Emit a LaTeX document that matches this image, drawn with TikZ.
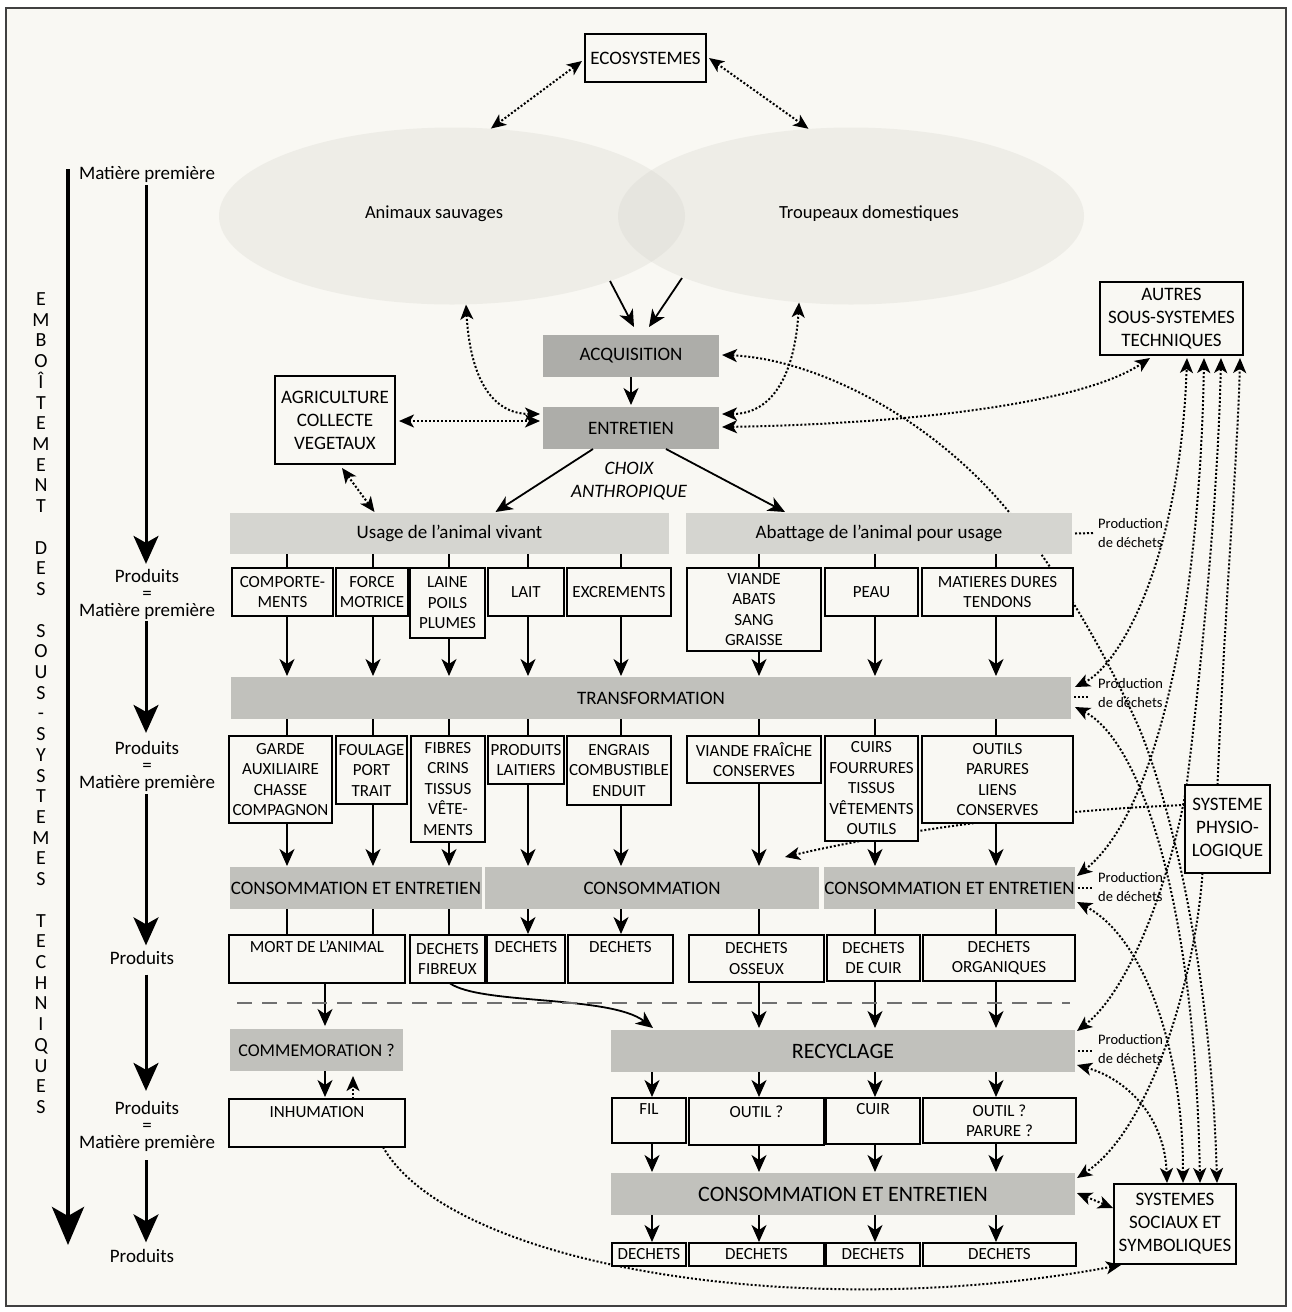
\documentclass[tikz,border=0pt]{standalone}
\usepackage{fontspec}
\setmainfont{Carlito}
\usetikzlibrary{arrows.meta,shapes.geometric,calc}
\definecolor{bgc}{HTML}{F9F8F3}
\definecolor{ellc}{HTML}{D8D7CF}
\definecolor{darkg}{HTML}{ADADA9}
\definecolor{midg}{HTML}{C1C1BC}
\definecolor{lightg}{HTML}{D5D5D0}
\definecolor{dashc}{HTML}{707070}
\definecolor{framec}{HTML}{404040}
\newcommand{\FntBar}{\fontsize{19}{23}\selectfont}
\newcommand{\FntBarL}{\fontsize{22}{26}\selectfont}
\newcommand{\FntBarS}{\fontsize{18}{21}\selectfont}
\newcommand{\FntBox}{\fontsize{17}{20.5}\selectfont}
\newcommand{\FntBig}{\fontsize{19}{23}\selectfont}
\newcommand{\FntLab}{\fontsize{19}{17}\selectfont}
\newcommand{\FntEll}{\fontsize{18.5}{22}\selectfont}
\newcommand{\FntSmall}{\fontsize{14.5}{19}\selectfont}
\newcommand{\FntVert}{\fontsize{20}{20}\selectfont}
\newcommand{\mkbox}[7][]{%
  \pgfmathsetmacro{\bxcx}{(#3+#5)/2}%
  \pgfmathsetmacro{\bxcy}{(#4+#6)/2}%
  \pgfmathsetmacro{\bxw}{#5-#3}%
  \pgfmathsetmacro{\bxh}{#6-#4}%
  \node[#1, minimum width=\bxw pt, minimum height=\bxh pt] (#2) at (\bxcx,\bxcy) {#7};}
\pgfdeclarelayer{back}
\pgfdeclarelayer{mid}
\pgfsetlayers{back,mid,main}
\tikzset{
  wbox/.style={draw, line width=2pt, fill=bgc, align=center, inner sep=0pt, outer sep=0pt, font=\FntBox},
  wboxb/.style={wbox, font=\FntBig},
  topt/.style 2 args={text height=#1pt, text depth=#2pt},
  gbar/.style={fill=midg, align=center, inner sep=0pt, outer sep=0pt, font=\FntBar},
  dbar/.style={gbar, fill=darkg},
  lbar/.style={gbar, fill=lightg},
  flow/.style={line width=1.8pt, -{Stealth[length=17pt,width=15pt,inset=5pt]}},
  plain/.style={line width=1.8pt},
  dotl/.style={line width=2pt, dash pattern=on 2pt off 2pt},
  dar/.style={dotl, -{Stealth[length=15pt,width=13pt,inset=4pt]}},
  ddar/.style={dotl, {Stealth[length=15pt,width=13pt,inset=4pt]}-{Stealth[length=15pt,width=13pt,inset=4pt]}},
  lab/.style={align=center, inner sep=0pt, outer sep=0pt, font=\FntLab},
  colarrow/.style={line width=3pt, -{Stealth[length=28pt,width=25pt,inset=7pt]}},
  pdlab/.style={align=left, anchor=west, inner sep=0pt, font=\FntSmall},
  ell/.style={ellipse, fill=ellc, fill opacity=0.32, draw=none, minimum width=466pt, minimum height=177pt, inner sep=0pt},
}
\begin{document}
\begin{tikzpicture}[x=1pt,y=-1pt]
\useasboundingbox (0,0) rectangle (1292,1312);
\begin{pgfonlayer}{back}
\fill[white] (0,0) rectangle (1292,1312);
\draw[framec, line width=1.2pt, fill=bgc] (6,8) rectangle (1286,1306);
\node[ell] (wild) at (452,216) {};
\node[ell] (dom) at (851,216) {};
\end{pgfonlayer}
\node[font=\FntEll] (wildt) at (434,213.5) {Animaux sauvages};
\node[font=\FntEll] (domt) at (869,213.5) {Troupeaux domestiques};

% left column
\coordinate (bigtop) at (68,169);
\coordinate (bigbot) at (68,1245);
\draw[line width=4pt, -{Stealth[length=38pt,width=32pt,inset=9pt]}] (bigtop) -- (bigbot);
\foreach \ltr [count=\i from 0] in {E,M,B,O,Î,T,E,M,E,N,T,{},D,E,S,{},S,O,U,S,-,S,Y,S,T,E,M,E,S,{},T,E,C,H,N,I,Q,U,E,S} {
  \pgfmathsetmacro{\vy}{305.5+\i*20.72}
  \node[anchor=base, inner sep=0pt, font=\FntVert] (v\i) at (41,\vy) {\ltr};
}
\node[lab] (mp0) at (147,174.5) {Matière première};
\node[lab] (p1) at (147,594) {Produits\\=\\Matière première};
\node[lab] (p2) at (147,766) {Produits\\=\\Matière première};
\node[lab] (p3) at (142,958) {Produits};
\node[lab] (p4) at (147,1126) {Produits\\=\\Matière première};
\node[lab] (p5) at (142,1256) {Produits};
\coordinate (colx) at (146,0);
\draw[colarrow, shorten <=2.5pt, shorten >=5pt] (mp0.south -| colx) -- (p1.north -| colx);
\draw[colarrow, shorten <=2pt, shorten >=8pt] (p1.south -| colx) -- (p2.north -| colx);
\draw[colarrow, shorten <=3pt, shorten >=6pt] (p2.south -| colx) -- (p3.north -| colx);
\draw[colarrow, shorten <=10pt, shorten >=10pt] (p3.south -| colx) -- (p4.north -| colx);
\draw[colarrow, shorten <=9pt, shorten >=7pt] (p4.south -| colx) -- (p5.north -| colx);

% top
\mkbox[wboxb]{eco}{585}{34}{706}{82}{ECOSYSTEMES}
\mkbox[dbar]{acq}{543}{335}{719}{377}{ACQUISITION}
\mkbox[dbar]{ent}{543}{407}{719}{449}{ENTRETIEN}
\mkbox[wboxb]{agri}{275}{376}{395}{464}{AGRICULTURE\\COLLECTE\\VEGETAUX}
\mkbox[wboxb]{autres}{1100}{282}{1243}{355}{AUTRES\\SOUS-SYSTEMES\\TECHNIQUES}
\mkbox[wboxb]{phys}{1185}{785}{1270}{873}{SYSTEME\\PHYSIO-\\LOGIQUE}
\mkbox[wboxb]{soc}{1114}{1184}{1236}{1264}{SYSTEMES\\SOCIAUX ET\\SYMBOLIQUES}
\node[font=\itshape\FntBar, align=center, inner sep=0pt] (choix) at (629,481.5) {CHOIX\\ANTHROPIQUE};

\mkbox[lbar]{usage}{230}{513}{669}{554}{Usage de l’animal vivant}
\mkbox[lbar]{abat}{686}{513}{1072}{554}{Abattage de l’animal pour usage}

\mkbox[wbox]{b1}{232}{568}{333}{616}{COMPORTE-\\MENTS}
\mkbox[wbox]{b2}{336}{568}{408}{616}{FORCE\\MOTRICE}
\mkbox[wbox]{b3}{410}{568}{485}{638}{LAINE\\POILS\\PLUMES}
\mkbox[wbox]{b4}{488}{568}{564}{616}{LAIT}
\mkbox[wbox]{b5}{567}{568}{671}{616}{EXCREMENTS}
\mkbox[wbox]{b6}{687}{568}{821}{651}{VIANDE\\ABATS\\SANG\\GRAISSE}
\mkbox[wbox]{b7}{825}{568}{918}{616}{PEAU}
\mkbox[wbox]{b8}{922}{568}{1073}{616}{MATIERES DURES\\TENDONS}

\mkbox[gbar]{trans}{231}{677}{1071}{719}{TRANSFORMATION}

\mkbox[wbox]{c1}{229}{736}{332}{823}{GARDE\\AUXILIAIRE\\CHASSE\\COMPAGNON}
\mkbox[wbox]{c2}{336}{736}{407}{804}{FOULAGE\\PORT\\TRAIT}
\mkbox[wbox]{c3}{411}{736}{485}{842}{FIBRES\\CRINS\\TISSUS\\VÊTE-\\MENTS}
\mkbox[wbox]{c4}{488}{736}{564}{784}{PRODUITS\\LAITIERS}
\mkbox[wbox]{c5}{567}{736}{671}{805}{ENGRAIS\\COMBUSTIBLE\\ENDUIT}
\mkbox[wbox]{c6}{687}{736}{821}{783}{VIANDE FRAÎCHE\\CONSERVES}
\mkbox[wbox]{c7}{825}{736}{918}{841}{CUIRS\\FOURRURES\\TISSUS\\VÊTEMENTS\\OUTILS}
\mkbox[wbox]{c8}{922}{736}{1073}{823}{OUTILS\\PARURES\\LIENS\\CONSERVES}

\mkbox[gbar]{ce1}{230}{867}{482}{909}{CONSOMMATION ET ENTRETIEN}
\mkbox[gbar]{cons}{485}{867}{819}{909}{CONSOMMATION}
\mkbox[gbar]{ce2}{824}{867}{1075}{909}{CONSOMMATION ET ENTRETIEN}

\mkbox[wbox,topt={17}{31}]{d1}{229}{935}{405}{983}{MORT DE L’ANIMAL}
\mkbox[wbox]{d2}{410}{935}{485}{983}{DECHETS\\FIBREUX}
\mkbox[wbox,topt={17}{31}]{d3}{487}{935}{565}{983}{DECHETS}
\mkbox[wbox,topt={17}{31}]{d4}{568}{935}{673}{983}{DECHETS}
\mkbox[wbox]{d5}{689}{935}{824}{982}{DECHETS\\OSSEUX}
\mkbox[wbox]{d6}{827}{935}{920}{981}{DECHETS\\DE CUIR}
\mkbox[wbox]{d7}{923}{935}{1075}{981}{DECHETS\\ORGANIQUES}

\mkbox[gbar,font=\FntBarS]{comm}{230}{1029}{403}{1071}{COMMEMORATION ?}
\mkbox[gbar,font=\FntBarL]{recy}{611}{1030}{1075}{1072}{RECYCLAGE}
\mkbox[wbox,topt={18}{30}]{inh}{229}{1099}{405}{1147}{INHUMATION}

\mkbox[wbox,topt={16}{29}]{e1}{612}{1098}{686}{1143}{FIL}
\mkbox[wbox,topt={19}{28}]{e2}{689}{1098}{824}{1145}{OUTIL ?}
\mkbox[wbox,topt={16}{30}]{e3}{826}{1098}{920}{1144}{CUIR}
\mkbox[wbox]{e4}{923}{1098}{1076}{1143}{OUTIL ?\\PARURE ?}

\mkbox[gbar,font=\FntBarL]{ce3}{611}{1173}{1075}{1215}{CONSOMMATION ET ENTRETIEN}

\mkbox[wbox]{f1}{612}{1243}{686}{1266}{DECHETS}
\mkbox[wbox]{f2}{689}{1243}{824}{1266}{DECHETS}
\mkbox[wbox]{f3}{826}{1243}{920}{1266}{DECHETS}
\mkbox[wbox]{f4}{923}{1243}{1076}{1266}{DECHETS}

\node[pdlab] (pd1) at (1098,533) {Production\\de déchets};
\node[pdlab] (pd2) at (1098,693) {Production\\de déchets};
\node[pdlab] (pd3) at (1098,887) {Production\\de déchets};
\node[pdlab] (pd4) at (1098,1049) {Production\\de déchets};

% columns
\coordinate (k1) at (287,0);
\coordinate (k2) at (373,0);
\coordinate (k3) at (449,0);
\coordinate (k4) at (528,0);
\coordinate (k5) at (621,0);
\coordinate (k6) at (759,0);
\coordinate (k7) at (875,0);
\coordinate (k8) at (996,0);
\coordinate (m1) at (652,0);
\coordinate (n1) at (325,0);

% solid flow
\coordinate (s1) at (610,281);
\coordinate (s2) at (682,278);
\draw[flow] (s1) -- ($(acq.north)+(3,-8)$);
\draw[flow] (s2) -- ($(acq.north)+(18,-8)$);
\draw[flow] (acq.south) -- ($(ent.north)+(0,-2)$);
\draw[flow] ($(ent.south)+(-38,0)$) -- ($(usage.north)+(46,-1)$);
\draw[flow] ($(ent.south)+(35,0)$) -- ($(abat.north)+(-94,-1)$);

\foreach \b/\k in {b1/k1,b2/k2,b3/k3,b4/k4,b5/k5} \draw[plain] (usage.south -| \k) -- (\b.north -| \k);
\foreach \b/\k in {b6/k6,b7/k7,b8/k8} \draw[plain] (abat.south -| \k) -- (\b.north -| \k);
\foreach \b/\k in {b1/k1,b2/k2,b3/k3,b4/k4,b5/k5,b6/k6,b7/k7,b8/k8} \draw[flow] (\b.south -| \k) -- ($(trans.north -| \k)+(0,-1)$);
\foreach \c/\k in {c1/k1,c2/k2,c3/k3,c4/k4,c5/k5,c6/k6,c7/k7,c8/k8} \draw[plain] (trans.south -| \k) -- (\c.north -| \k);
\foreach \c/\k/\t in {c1/k1/ce1,c2/k2/ce1,c3/k3/ce1,c4/k4/cons,c5/k5/cons,c6/k6/cons,c7/k7/ce2,c8/k8/ce2} \draw[flow] (\c.south -| \k) -- ($(\t.north -| \k)+(0,-1)$);
\foreach \s/\d/\k in {ce1/d1/k1,ce1/d1/k2,ce1/d2/k3,cons/d5/k6,ce2/d6/k7,ce2/d7/k8} \draw[plain] (\s.south -| \k) -- (\d.north -| \k);
\foreach \d/\k in {d3/k4,d4/k5} \draw[flow] (cons.south -| \k) -- ($(\d.north -| \k)+(0,-1)$);
\draw[flow] (d1.south -| n1) -- ($(comm.north -| n1)+(0,-3)$);
\draw[flow] (comm.south -| n1) -- ($(inh.north -| n1)+(0,-2)$);
\foreach \d/\k in {d5/k6,d6/k7,d7/k8} \draw[flow] (\d.south -| \k) -- ($(recy.north -| \k)+(0,-2)$);
\draw[flow] ($(d2.south)+(2,0)$) .. controls (480,1005) and (610,995) .. ($(recy.north west)+(42,-2)$);
\foreach \e/\k in {e1/m1,e2/k6,e3/k7,e4/k8} {
  \draw[flow] (recy.south -| \k) -- ($(\e.north -| \k)+(0,-1)$);
  \draw[flow] (\e.south -| \k) -- ($(ce3.north -| \k)+(0,-1)$);
}
\foreach \f/\k in {f1/m1,f2/k6,f3/k7,f4/k8} \draw[flow] (ce3.south -| \k) -- ($(\f.north -| \k)+(0,-1)$);

\coordinate (dl) at (237,1003);
\coordinate (dr) at (1070,1003);
\draw[dashc, line width=2.5pt, dash pattern=on 15pt off 10pt] (dl) -- (dr);

% dotted links
\begin{pgfonlayer}{mid}
\draw[ddar] ($(eco.west)+(-3,3)$) -- (wild.66.5);
\draw[ddar] ($(eco.east)+(3,0)$) -- (dom.116.3);
\draw[ddar] (wild.-81) .. controls (470,375) and (490,414) .. ($(ent.west)+(-3,-14)$);
\draw[ddar] (dom.-121.6) .. controls (795,370) and (775,414) .. ($(ent.east)+(3,-14)$);
\draw[ddar] ($(agri.east)+(4,1)$) -- ($(ent.west)+(-3,-7)$);
\draw[ddar] ($(agri.south)+(7,4)$) -- ($(usage.north)+(-75,-1)$);
\draw[ddar] ($(ent.east)+(3,-1)$) .. controls (900,424) and (1080,405) .. ($(autres.south west)+(50,3)$);
\draw[ddar] ($(acq.east)+(3,-1)$) .. controls (800,358) and (900,400) .. (980,480) .. controls (1040,540) and (1100,640) .. (1140,730) .. controls (1180,830) and (1212,1000) .. ($(soc.north west)+(103,-1)$);
\draw[ddar] ($(trans.north east)+(4,10)$) .. controls (1120,665) and (1180,560) .. ($(autres.south west)+(87,3)$);
\draw[ddar] ($(trans.south east)+(4,-12)$) .. controls (1140,740) and (1195,900) .. ($(soc.north west)+(86,-1)$);
\draw[ddar] ($(ce2.north east)+(2,9)$) .. controls (1160,810) and (1200,600) .. ($(autres.south west)+(104,3)$);
\draw[ddar] ($(ce2.south east)+(2,-7)$) .. controls (1140,935) and (1183,1040) .. ($(soc.north west)+(69,-1)$);
\draw[ddar] ($(recy.north east)+(2,1)$) .. controls (1130,990) and (1170,880) .. (1186,790) .. controls (1200,680) and (1218,500) .. ($(autres.south west)+(121,3)$);
\draw[ddar] ($(recy.south east)+(2,-7)$) .. controls (1130,1080) and (1165,1120) .. ($(soc.north west)+(53,-1)$);
\draw[dar] ($(phys.south)+(-25,0)$) .. controls (1195,980) and (1150,1130) .. ($(ce3.north east)+(2,5)$);
\draw[ddar] ($(ce3.east)+(2,-1)$) -- ($(soc.north west)+(-1,24)$);
\draw[dar] ($(phys.north)+(-10,0)$) .. controls (1225,600) and (1238,450) .. ($(autres.south east)+(-3,3)$);
\draw[dar] ($(phys.west)+(0,-24)$) .. controls (1050,810) and (900,830) .. ($(cons.north east)+(-34,-10)$);
\draw[dar] ($(inh.south east)+(-22,0)$) .. controls (450,1265) and (800,1325) .. ($(soc.south west)+(7,1)$);
\draw[dar] ($(inh.north)+(36,0)$) -- ($(comm.south)+(36.5,5)$);
\draw[dotl] ($(abat.east)+(3,0)$) -- ($(pd1.west)+(-4,0)$);
\draw[dotl] ($(trans.east)+(3,-1)$) -- ($(pd2.west)+(-10,4)$);
\draw[dotl] ($(ce2.east)+(3,0)$) -- ($(pd3.west)+(-6,1)$);
\draw[dotl] ($(recy.east)+(3,0)$) -- ($(pd4.west)+(-6,2)$);
\end{pgfonlayer}
\end{tikzpicture}
\end{document}
